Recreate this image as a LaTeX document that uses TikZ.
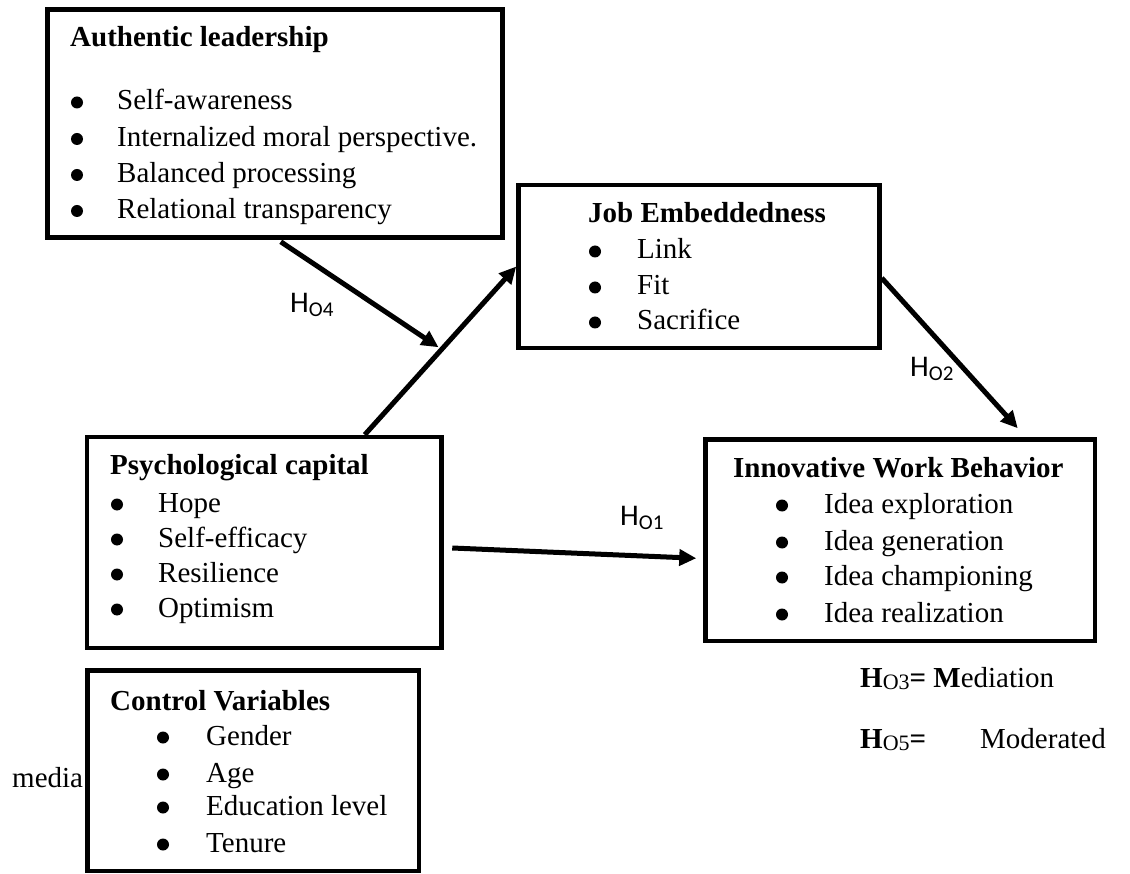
\documentclass[tikz,border=0pt]{standalone}
\usepackage{fontspec}
\setmainfont{Liberation Serif}
\newfontfamily\calfont{Carlito}
\usetikzlibrary{arrows.meta,calc}
\tikzset{
  box/.style={draw=black, line width=4.5pt, fill=white, inner sep=0pt, rectangle},
  txt/.style={anchor=base west, inner sep=0pt, font=\fontsize{29}{35}\selectfont},
  hlab/.style={anchor=base west, inner sep=0pt, font=\calfont\fontsize{30}{36}\selectfont},
  conn/.style={line width=5pt, -{Triangle[length=17pt,width=16pt]}},
  bul/.style={fill=black}
}
\newcommand\mysub[1]{\raisebox{-4pt}{\fontsize{21}{24}\selectfont #1}}
\newcommand\mysubs[1]{\raisebox{-2pt}{\fontsize{22}{24}\selectfont #1}}
\begin{document}
\begin{tikzpicture}[x=1pt,y=-1pt]
\useasboundingbox (0,0) rectangle (1130,874);
\fill[white] (0,0) rectangle (1130,874);

% text under the control box
\node[txt] (media) at (12,787) {media};

% boxes
\node[box, minimum width=455pt, minimum height=228pt] (AL) at (275,123.5) {};
\node[box, minimum width=361pt, minimum height=163pt] (JE) at (699,266.5) {};
\node[box, minimum width=354.5pt, minimum height=211pt] (PC) at (264.25,542.5) {};
\node[box, minimum width=389.5pt, minimum height=201.5pt] (IWB) at (900.25,540.25) {};
\node[box, minimum width=331.5pt, minimum height=200.5pt] (CV) at (253.25,770.75) {};

% Authentic leadership
\node[txt] (alh) at (70,47) {\bfseries Authentic leadership};
\foreach \y/\t [count=\i] in {110/Self-awareness, 146.5/Internalized moral perspective., 182.5/Balanced processing, 218.5/Relational transparency}{
  \fill[bul] (77,\y-7.5) circle (6pt);
  \node[txt] (al\i) at (117,\y) {\t};
}
% Job embeddedness
\node[txt] (jeh) at (588,223) {\bfseries Job Embeddedness};
\foreach \y/\t [count=\i] in {259/Link, 295/Fit, 330/Sacrifice}{
  \fill[bul] (595,\y-7.5) circle (6pt);
  \node[txt] (je\i) at (637,\y) {\t};
}
% Psychological capital
\node[txt] (pch) at (110,475) {\bfseries Psychological capital};
\foreach \y/\t [count=\i] in {512/Hope, 547/Self-efficacy, 582/Resilience, 617/Optimism}{
  \fill[bul] (117,\y-7.5) circle (6pt);
  \node[txt] (pc\i) at (158,\y) {\t};
}
% Innovative work behavior
\node[txt] (iwbh) at (733,477) {\bfseries Innovative Work Behavior};
\foreach \y/\t [count=\i] in {513/Idea exploration, 550/Idea generation, 585/Idea championing, 622/Idea realization}{
  \fill[bul] (782,\y-7.5) circle (6pt);
  \node[txt] (iwb\i) at (824,\y) {\t};
}
% Control variables
\node[txt] (cvh) at (110,710) {\bfseries Control Variables};
\foreach \y/\t [count=\i] in {745/Gender, 782/Age, 815/Education level, 852/Tenure}{
  \fill[bul] (163,\y-7.5) circle (6pt);
  \node[txt] (cv\i) at (206,\y) {\t};
}

% connectors
\coordinate (pcs) at ([xshift=280pt]PC.north west);
\coordinate (pj) at ($(pcs)!0.52!(JE.west)$);
\draw[conn] (pcs) -- (JE.west);
\draw[conn] ([xshift=235.5pt,yshift=-2pt]AL.south west) -- ([xshift=-5pt]pj);
\draw[conn] ([yshift=-11.5pt]JE.east) -- ([xshift=314.5pt,yshift=9pt]IWB.north west);
\draw[conn] ([xshift=8.5pt,yshift=-5.5pt]PC.east) -- ([xshift=-7pt,yshift=-18pt]IWB.west);

% hypothesis labels
\node[hlab] (h4) at (290,313) {H\mysub{O4}};
\node[hlab] (h1) at (620,525) {H\mysub{O1}};
\node[hlab] (h2) at (910,377) {H\mysub{O2}};

% legend
\node[txt] (h3) at (860,687) {\textbf{H}\mysubs{O3}\textbf{=} \textbf{M}ediation};
\node[txt] (h5) at (860,748) {\textbf{H}\mysubs{O5}\textbf{=}};
\node[txt] (h5b) at (980,748) {Moderated};
\end{tikzpicture}
\end{document}
